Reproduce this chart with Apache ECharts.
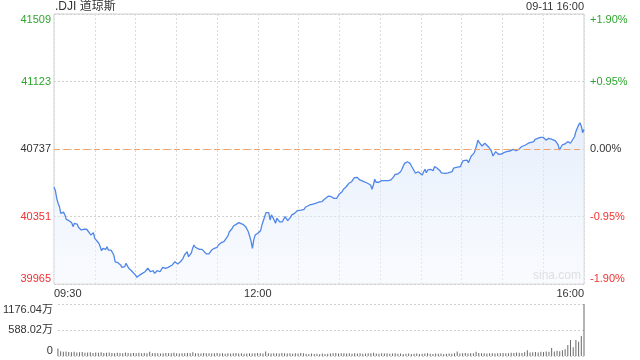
<!DOCTYPE html>
<html><head><meta charset="utf-8">
<script src="https://cdn.jsdelivr.net/npm/echarts@6/dist/echarts.min.js"></script>
<style>html,body{margin:0;padding:0;background:#fff}#c{width:640px;height:360px}</style>
</head><body><div id="c"></div><script>
const titleText = '.DJI 道琼斯';
const stampText = '09-11 16:00';
const watermark = 'sina.com';
const prevClose = 40737;
const priceMin = 39965, priceMax = 41509, priceStep = 386;
const pctTicks = ['-1.90%', '-0.95%', '0.00%', '+0.95%', '+1.90%'];
const timeLabels = {0: '09:30', 150: '12:00', 390: '16:00'};
const volumeMax = 1176.04;
const volumeStepMinutes = 2;

const priceMinutes = [0,1,2,3,4,5,6,7,8,9,11,12,13,14,15,16,17,18,19,20,22,23,24,25,26,27,28,29,30,31,33,34,35,36,38,39,40,41,42,44,45,46,47,49,50,51,52,53,55,56,57,58,60,61,62,63,65,66,67,68,69,71,72,73,74,76,77,78,79,80,82,83,84,85,87,88,89,90,91,93,94,95,96,98,99,100,101,102,103,104,105,107,108,109,110,112,113,114,115,116,118,119,120,121,123,124,125,126,128,129,130,131,132,134,135,136,137,139,140,141,142,143,145,146,147,148,150,151,152,153,155,156,157,158,159,160,161,162,163,164,165,166,167,168,169,170,172,173,174,175,177,178,179,180,182,183,184,185,186,188,189,190,191,193,194,195,197,199,202,203,204,206,207,208,209,210,212,213,214,215,217,218,219,220,221,223,224,225,226,228,229,230,231,233,234,235,236,237,239,240,241,242,244,245,246,247,248,250,251,252,253,255,256,257,258,260,261,262,263,264,266,267,268,269,271,272,273,274,275,277,278,279,280,282,283,284,285,286,288,289,290,291,293,294,295,296,297,299,300,301,302,304,305,306,307,309,310,311,312,313,315,316,317,318,320,321,322,323,325,326,327,328,329,331,332,333,334,336,337,338,339,340,342,343,344,345,347,348,349,350,351,353,354,355,356,358,359,360,361,362,364,365,366,367,369,370,371,372,373,374,375,376,378,379,380,381,383,384,385,386,387,388,389,390];
const priceValues = [40518,40500,40455,40427,40407,40369,40378,40376,40360,40335,40327,40331,40316,40293,40312,40302,40308,40289,40284,40274,40278,40270,40278,40274,40258,40245,40235,40258,40226,40217,40198,40178,40155,40169,40163,40178,40159,40150,40159,40131,40092,40083,40087,40074,40060,40055,40064,40083,40055,40045,40041,40035,40016,40003,40011,40016,40026,40022,40035,40045,40055,40035,40030,40041,40026,40041,40035,40035,40045,40060,40055,40060,40060,40055,40074,40083,40092,40087,40079,40092,40102,40112,40131,40150,40121,40118,40141,40169,40188,40175,40169,40163,40169,40163,40155,40137,40135,40137,40144,40159,40169,40175,40175,40188,40201,40205,40207,40217,40240,40264,40274,40281,40297,40306,40302,40316,40308,40306,40302,40293,40284,40264,40210,40169,40217,40245,40255,40264,40270,40302,40350,40373,40378,40373,40331,40360,40346,40331,40312,40341,40331,40320,40318,40321,40331,40350,40327,40321,40346,40360,40369,40378,40384,40392,40388,40398,40392,40404,40407,40417,40411,40421,40422,40427,40430,40434,40436,40449,40468,40470,40464,40455,40445,40455,40468,40480,40493,40507,40512,40521,40541,40550,40550,40560,40573,40575,40569,40560,40554,40550,40544,40544,40537,40531,40507,40531,40564,40547,40547,40550,40556,40560,40556,40560,40556,40554,40560,40579,40592,40598,40594,40607,40621,40640,40655,40664,40661,40655,40640,40627,40598,40588,40607,40601,40588,40607,40621,40601,40617,40621,40632,40613,40636,40627,40617,40613,40601,40607,40598,40604,40601,40598,40607,40627,40621,40632,40627,40636,40655,40670,40664,40674,40659,40678,40697,40712,40731,40760,40788,40773,40754,40750,40770,40760,40747,40735,40722,40697,40722,40712,40707,40708,40708,40716,40718,40722,40731,40727,40731,40735,40735,40727,40735,40741,40750,40760,40760,40764,40770,40770,40775,40779,40792,40798,40798,40804,40802,40804,40811,40788,40798,40794,40794,40788,40784,40773,40760,40731,40747,40760,40770,40766,40779,40784,40770,40779,40807,40836,40855,40874,40887,40869,40830,40850];

const volumeValues = [170,110,95,100,90,85,95,80,85,90,75,80,85,70,80,75,85,70,75,80,70,65,75,70,65,80,70,60,70,65,75,60,70,65,95,60,70,65,55,60,70,65,60,75,60,55,65,60,70,60,85,60,65,55,70,60,65,55,60,70,55,60,50,65,55,60,70,55,60,50,55,65,55,60,70,60,55,100,60,55,65,60,55,70,60,55,65,50,60,55,70,60,50,45,55,45,50,40,55,45,50,55,60,70,55,60,65,55,60,50,65,55,60,50,55,60,65,75,55,50,60,55,65,50,55,60,50,55,45,50,55,45,50,55,45,50,55,60,50,45,55,50,55,45,50,55,50,60,100,55,60,70,55,60,65,95,70,60,65,55,60,65,55,60,65,70,60,65,75,70,80,75,70,85,130,80,85,90,80,95,90,100,95,180,100,120,110,130,150,250,360,200,360,320,450,1176.04];

const GREEN = '#2fa52f', RED = '#f23030', DARK = '#333';
const FONT = '"Liberation Sans", Arial, "Noto Sans CJK SC", sans-serif';
function tickColor(v) {
  v = Number(v);
  if (Math.abs(v - prevClose) < 0.5) return DARK;
  return v > prevClose ? GREEN : RED;
}

const pricePairs = priceMinutes.map((m, i) => [m, priceValues[i]]);
const volumePairs = volumeValues.map((v, i) => [i * volumeStepMinutes, v]);

const chart = echarts.init(document.getElementById('c'), null, {renderer: 'canvas'});
chart.setOption({
  animation: false,
  textStyle: {fontFamily: FONT},
  grid: [
    {left: 54, top: 14, width: 530, height: 270, show: true, borderColor: '#d0d0d0', borderWidth: 1, backgroundColor: 'transparent'},
    {left: 54, top: 304, width: 530, height: 52}
  ],
  xAxis: [
    {type: 'value', gridIndex: 0, min: 0, max: 390, interval: 30,
     axisLine: {show: false}, axisTick: {show: false},
     splitLine: {show: true, lineStyle: {color: '#dcdcdc', type: [2, 2]}},
     axisLabel: {show: true, margin: 4, fontSize: 11, color: DARK, fontFamily: FONT,
       alignMinLabel: 'left', alignMaxLabel: 'right',
       formatter: v => timeLabels[v] || ''}},
    {type: 'value', gridIndex: 1, min: 0, max: 390, show: false}
  ],
  yAxis: [
    {type: 'value', gridIndex: 0, min: priceMin, max: priceMax, interval: priceStep, position: 'left',
     axisLine: {show: false}, axisTick: {show: false},
     splitLine: {show: true, lineStyle: {color: '#d0d0d0', type: [2, 2]}},
     axisLabel: {margin: 3, fontSize: 11, fontFamily: FONT, color: tickColor,
       verticalAlignMinLabel: 'bottom', verticalAlignMaxLabel: 'top',
       formatter: v => String(Math.round(v))}},
    {type: 'value', gridIndex: 0, min: priceMin, max: priceMax, interval: priceStep, position: 'right',
     axisLine: {show: false}, axisTick: {show: false}, splitLine: {show: false},
     axisLabel: {margin: 6, fontSize: 11, fontFamily: FONT, color: tickColor,
       verticalAlignMinLabel: 'bottom', verticalAlignMaxLabel: 'top',
       formatter: (v, i) => pctTicks[Math.round((v - priceMin) / priceStep)]}},
    {type: 'value', gridIndex: 1, min: 0, max: volumeMax, interval: volumeMax / 2,
     axisLine: {show: false}, axisTick: {show: false},
     splitLine: {show: true, lineStyle: {color: '#d0d0d0', type: [2, 2]}},
     axisLabel: {margin: 5, fontSize: 11, fontFamily: FONT, color: DARK,
       verticalAlignMinLabel: 'bottom', verticalAlignMaxLabel: 'top',
       formatter: v => v < 0.01 ? '0' : (Math.round(v * 100) / 100).toFixed(2) + '万'}}
  ],
  graphic: [
    {type: 'text', left: 55, top: 1, style: {text: titleText, font: '12px ' + FONT, fill: DARK}},
    {type: 'text', right: 56, top: 1, style: {text: stampText, font: '11px ' + FONT, fill: DARK}},
    {type: 'text', left: 533, top: 270, z: -1, style: {text: watermark, font: '12px ' + FONT, fill: '#cfcfcf'}}
  ],
  series: [
    {type: 'line', xAxisIndex: 0, yAxisIndex: 0, data: pricePairs, showSymbol: false, symbol: 'none',
     lineStyle: {color: '#4f86ea', width: 1.3},
     areaStyle: {origin: 'start', color: new echarts.graphic.LinearGradient(0, 0, 0, 1, [
       {offset: 0, color: 'rgba(214,228,250,0.85)'}, {offset: 1, color: 'rgba(240,245,253,0.6)'}])},
     markLine: {silent: true, symbol: 'none', label: {show: false},
       lineStyle: {color: '#f2a064', type: [6, 4], width: 1},
       data: [{yAxis: prevClose}]}},
    {type: 'bar', xAxisIndex: 1, yAxisIndex: 2, data: volumePairs, barWidth: 1,
     itemStyle: {color: '#6a6a6a'}}
  ]
});
</script></body></html>
